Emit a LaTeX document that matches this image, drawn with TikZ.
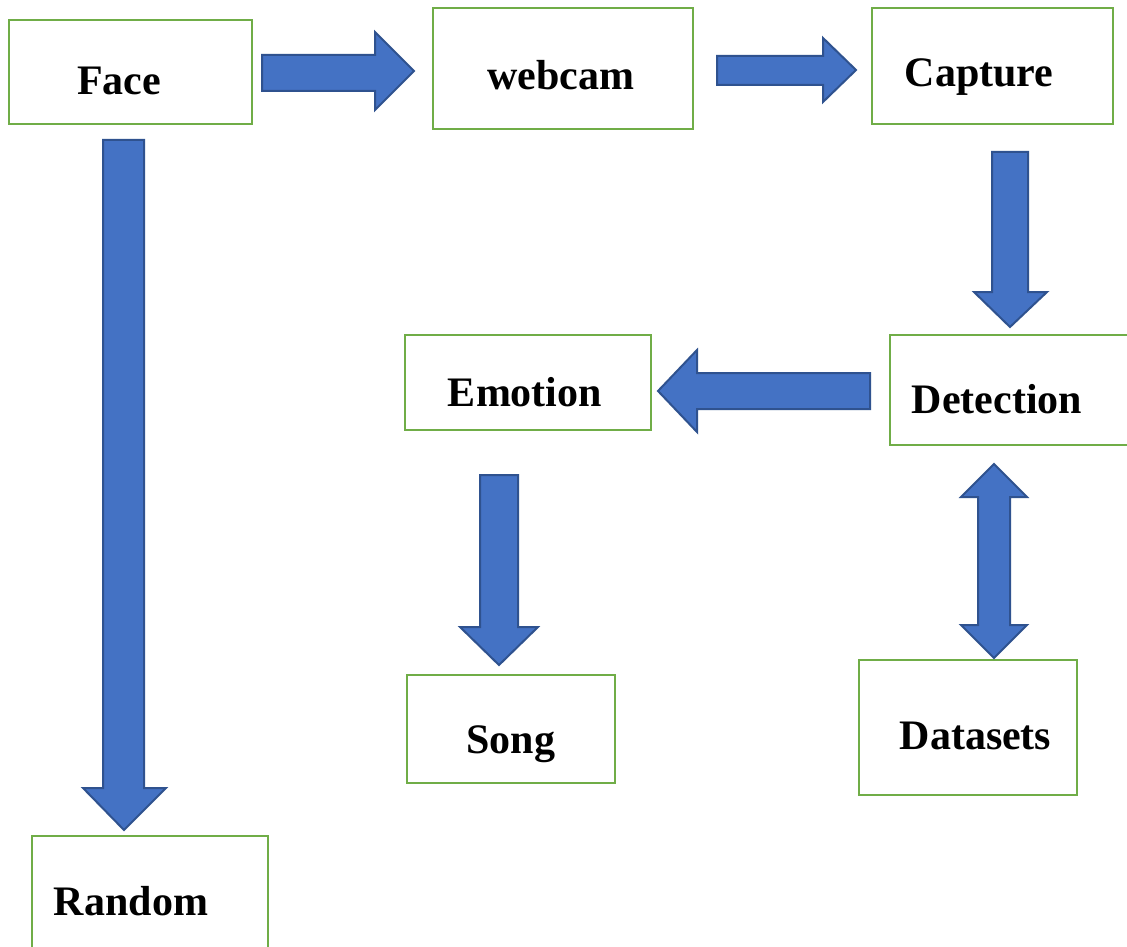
\documentclass[tikz,border=0pt]{standalone}
\usepackage{fontspec}
\setmainfont{Liberation Serif}
\definecolor{boxgreen}{HTML}{70AD47}
\definecolor{arrfill}{HTML}{4472C4}
\definecolor{arredge}{HTML}{2F528F}
\begin{document}
\begin{tikzpicture}[x=1pt,y=-1pt,
  box/.style={draw=boxgreen, line width=2.5pt, fill=white, inner sep=0pt},
  lbl/.style={font=\fontsize{42}{50}\bfseries\selectfont, inner sep=0pt, anchor=base},
  blockarrow/.style={fill=arrfill, draw=arredge, line width=2pt, line join=miter}]
\useasboundingbox (0,0) rectangle (1127,947);
\fill[white] (0,0) rectangle (1127,947);
% boxes
\node[box, minimum width=243pt, minimum height=104pt] (face) at (130.5,72) {};
\node[box, minimum width=260pt, minimum height=121pt] (webcam) at (563,68.5) {};
\node[box, minimum width=241pt, minimum height=116pt] (capture) at (992.5,66) {};
\node[box, minimum width=246pt, minimum height=95pt] (emotion) at (528,382.5) {};
\node[box, minimum width=250pt, minimum height=110pt] (detection) at (1015,390) {};
\node[box, minimum width=208pt, minimum height=108pt] (song) at (511,729) {};
\node[box, minimum width=218pt, minimum height=135pt] (datasets) at (968,727.5) {};
\node[box, minimum width=236pt, minimum height=124pt] (random) at (150,898) {};
% labels (placed by baseline)
\node[lbl] (faceL) at (119,95) {Face};
\node[lbl] (webcamL) at (561,90) {webcam};
\node[lbl] (captureL) at (979,87) {Capture};
\node[lbl] (emotionL) at (525,406) {Emotion};
\node[lbl] (detectionL) at (997,413) {Detection};
\node[lbl] (songL) at (511,753) {Song};
\node[lbl] (datasetsL) at (975.5,749) {Datasets};
\node[lbl] (randomL) at (131,915) {Random};
% arrows
% Face -> webcam
\draw[blockarrow] (262,55) -- (375,55) -- (375,32) -- (414,71) -- (375,110) -- (375,91) -- (262,91) -- cycle;
% webcam -> Capture
\draw[blockarrow] (717,56) -- (823,56) -- (823,38) -- (856,70) -- (823,102) -- (823,85) -- (717,85) -- cycle;
% Capture -> Detection
\draw[blockarrow] (992,152) -- (1028,152) -- (1028,292) -- (1047,292) -- (1010,327) -- (974,292) -- (992,292) -- cycle;
% Detection -> Emotion
\draw[blockarrow] (870,373) -- (697,373) -- (697,350) -- (658,391) -- (697,432) -- (697,409) -- (870,409) -- cycle;
% Emotion -> Song
\draw[blockarrow] (480,475) -- (518,475) -- (518,627) -- (538,627) -- (499,665) -- (460,627) -- (480,627) -- cycle;
% Face -> Random
\draw[blockarrow] (103,140) -- (144,140) -- (144,788) -- (166,788) -- (124,830) -- (83,788) -- (103,788) -- cycle;
% Detection <-> Datasets
\draw[blockarrow] (994,464) -- (1027,497) -- (1010,497) -- (1010,625) -- (1027,625) -- (994,658) -- (961,625) -- (978,625) -- (978,497) -- (961,497) -- cycle;
\end{tikzpicture}
\end{document}
